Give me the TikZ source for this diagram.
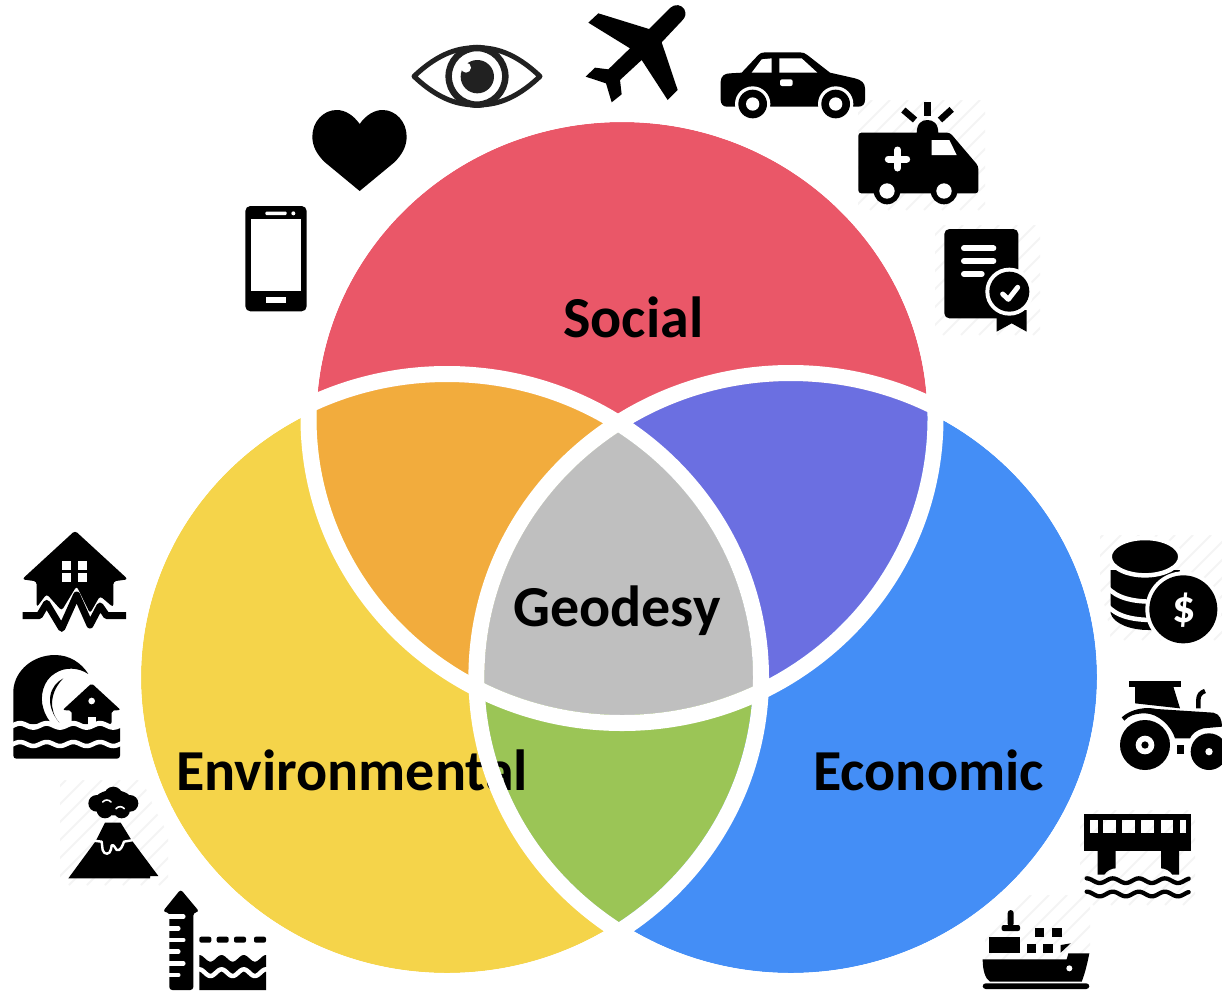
\documentclass[tikz,border=0pt]{standalone}
\usepackage{fontspec}
\setmainfont{Carlito}
\definecolor{cRed}{HTML}{EA5768}
\definecolor{cYel}{HTML}{F5D44A}
\definecolor{cBlu}{HTML}{448EF6}
\definecolor{cOra}{HTML}{F2AC3D}
\definecolor{cPur}{HTML}{6B6FE1}
\definecolor{cGre}{HTML}{9BC556}
\definecolor{cGra}{HTML}{BFBFBF}
\definecolor{cHat}{HTML}{F4F4F4}
\newcommand\ellT{(622,418.5) ellipse [x radius=305.5,y radius=296.5]}
\newcommand\ellL{(447,677.5) ellipse [x radius=306,y radius=295.5]}
\newcommand\ellR{(790.7,677) ellipse [x radius=306.3,y radius=296]}
\newcommand\hatchbox[4]{\begin{scope}\clip (#1,#2) rectangle (#3,#4);
 \foreach \k in {0,18,...,2300} \draw[cHat,line width=2pt] ({\k-#2},#2) -- ({\k-#4},#4);
 \end{scope}}
\tikzset{
 label/.style={font=\fontsize{58}{60}\selectfont\bfseries,text=black,anchor=base west,inner sep=0pt},
 ring/.style={draw=white,line width=16pt},
 gap/.style={white,line cap=round,line join=round},
 zoomed/.style={scale=0.33333}
}
\begin{document}
\begin{tikzpicture}[x=1pt,y=-1pt]
\useasboundingbox (0,0) rectangle (1222,991);
\fill[white] (0,0) rectangle (1222,991);
% faint watermark stripes
\hatchbox{60}{780}{168}{885}
\hatchbox{858}{100}{985}{210}
\hatchbox{935}{225}{1040}{335}
\hatchbox{1100}{535}{1222}{640}
\hatchbox{985}{895}{1090}{960}
\hatchbox{1080}{810}{1195}{905}
% venn
\fill[cRed] \ellT;
\fill[cYel] \ellL;
\fill[cBlu] \ellR;
\begin{scope}\clip \ellT; \fill[cOra] \ellL; \fill[cPur] \ellR; \end{scope}
\begin{scope}\clip \ellL; \fill[cGre] \ellR; \end{scope}
\begin{scope}\clip \ellT; \clip \ellL; \fill[cGra] \ellR; \end{scope}
\node[label] (social) at (563,337) {Social};
\node[label] (geodesy) at (513,626) {Geodesy};
\node[label] (env) at (176,790) {Environmental};
\node[label] (eco) at (813,790) {Economic};
\draw[ring] (622,418.5) ellipse [x radius=313.5,y radius=304.5];
\draw[ring] (447,677.5) ellipse [x radius=314,y radius=303.5];
\draw[ring] (790.7,677) ellipse [x radius=314.3,y radius=304];
% phone, heart, eye
\begin{scope}[shift={(230,0)},zoomed]
 \fill[rounded corners=5pt] (46,618) rectangle (230,934);
 \fill[white] (62,658) rectangle (214,874);
 \fill[white,rounded corners=1pt] (106,635) rectangle (170,645);
 \fill[white] (190,640) circle (6);
 \fill[white] (108,892) rectangle (168,910);
 \fill (389,372) .. controls (370,345) and (345,330) .. (320,330) .. controls (280,330) and (247,365) .. (247,410) .. controls (247,440) and (262,465) .. (285,487) -- (389,573) -- (493,487) .. controls (515,465) and (530,440) .. (530,410) .. controls (530,365) and (497,330) .. (458,330) .. controls (433,330) and (408,345) .. (389,372) -- cycle;
 \draw[color=black!87,line width=5pt,line join=round] (552,229) .. controls (630,155) and (690,143) .. (741,143) .. controls (792,143) and (852,155) .. (930,229) .. controls (852,303) and (792,315) .. (741,315) .. controls (690,315) and (630,303) .. (552,229) -- cycle;
 \draw[color=black!87,line width=6.5pt] (741,229) circle (85);
 \fill[color=black!87] (742,230) circle (50);
 \fill[white] (708,203) circle (15);
\end{scope}
% plane, car
\begin{scope}[shift={(570,0)},zoomed]
 \fill (237,87) -- (300,24) .. controls (315,10) and (335,14) .. (343,28) .. controls (350,42) and (345,52) .. (338,60) -- (275,127) -- (323,270) -- (293,300) -- (215,180) -- (150,240) -- (155,283) -- (125,307) -- (108,250) -- (47,230) -- (75,203) -- (115,208) -- (180,145) -- (55,68) -- (85,40) -- cycle;
 \fill (515,218) -- (565,165) .. controls (570,160) and (575,157) .. (585,157) -- (690,157) .. controls (700,157) and (705,160) .. (712,165) -- (780,218) -- (855,235) .. controls (875,240) and (885,250) .. (885,265) -- (885,300) .. controls (885,312) and (878,320) .. (865,320) -- (470,320) .. controls (460,320) and (452,312) .. (452,300) -- (452,245) .. controls (452,228) and (465,220) .. (480,220) -- cycle;
 \fill[white] (548,312) circle (53);
 \fill[white] (797,312) circle (53);
 \fill (548,312) circle (43);
 \fill (797,312) circle (43);
 \fill[white] (548,312) circle (20);
 \fill[white] (797,312) circle (20);
 \fill[white] (545,218) -- (575,178) -- (605,175) -- (605,218) -- cycle;
 \fill[white] (628,175) -- (695,175) -- (742,218) -- (628,218) -- cycle;
 \fill[white,rounded corners=2pt] (630,238) rectangle (668,258);
\end{scope}
% ambulance, certificate
\begin{scope}[shift={(850,90)},zoomed]
 \fill[rounded corners=3pt] (25,128) -- (300,128) -- (385,228) -- (385,310) -- (25,310) -- cycle;
 \fill (200,130) .. controls (200,100) and (215,90) .. (232,90) .. controls (250,90) and (265,100) .. (265,130) -- cycle;
 \fill (221,35) rectangle (244,78);
 \draw[line width=6.5pt] (160,60) -- (195,90);
 \draw[line width=6.5pt] (305,58) -- (270,90);
 \fill[white] (245,150) -- (298,150) -- (320,195) -- (245,195) -- cycle;
 \draw[gap,line width=7pt] (115,207) -- (170,207);
 \draw[gap,line width=7pt] (143,180) -- (143,234);
 \fill (111,303) circle (40);
 \fill (282,303) circle (40);
 \fill[white] (111,303) circle (23);
 \fill[white] (282,303) circle (23);
 \fill[rounded corners=5pt] (283,417) rectangle (505,685);
 \draw[gap,line width=6pt] (342,475) -- (430,475);
 \draw[gap,line width=6pt] (342,513) -- (430,513);
 \draw[gap,line width=6pt] (342,552) -- (395,552);
 \fill (440,660) -- (440,725) -- (485,700) -- (530,725) -- (530,660) -- cycle;
 \fill[white] (478,605) circle (72);
 \fill (478,605) circle (60);
 \draw[gap,line width=5pt] (458,612) -- (475,628) -- (503,592);
\end{scope}
% earthquake house, tsunami
\begin{scope}[shift={(0,520)},zoomed]
 \fill[rounded corners=3pt] (225,32) -- (384,178) -- (340,184) -- (340,262) -- (300,228) -- (270,280) -- (230,198) -- (185,272) -- (140,222) -- (110,262) -- (110,184) -- (66,178) -- cycle;
 \draw[line width=7pt,line join=round] (68,287) -- (118,287) -- (140,250) -- (185,325) -- (230,225) -- (270,315) -- (300,258) -- (320,287) -- (378,287);
 \fill[white] (185,122) rectangle (212,150);
 \fill[white] (235,122) rectangle (262,150);
 \fill[white] (185,160) rectangle (212,187);
 \fill[white] (235,160) rectangle (262,187);
 \fill (40,612) -- (40,510) .. controls (45,450) and (100,405) .. (165,405) .. controls (210,405) and (245,430) .. (265,462) .. controls (235,442) and (195,440) .. (165,460) .. controls (130,480) and (118,530) .. (130,565) .. controls (135,585) and (145,598) .. (155,612) -- cycle;
 \fill (190,475) .. controls (150,495) and (130,550) .. (178,608) .. controls (145,570) and (150,515) .. (190,475) -- cycle;
 \fill[rounded corners=2pt] (275,490) -- (362,570) -- (335,572) -- (335,612) -- (215,612) -- (215,572) -- (188,570) -- cycle;
 \fill[white] (275,543) circle (10);
 \fill[white] (265,590) rectangle (287,615);
 \fill[rounded corners=3pt] (40,615) rectangle (360,716);
 \draw[white,line width=5pt] plot[domain=30:370,samples=70] (\x,{616+6*sin(\x*4.5)});
 \draw[white,line width=4.5pt] plot[domain=30:370,samples=70] (\x,{672+6*sin(\x*4.5)});
\end{scope}
% volcano, sea level
\begin{scope}[shift={(50,770)},zoomed]
 \fill (140,100) circle (25) (190,78) circle (28) (240,100) circle (25) (165,120) circle (25) (215,120) circle (25) (190,98) ellipse [x radius=60,y radius=38];
 \draw[gap,line width=1.6pt] (158,96) .. controls (165,88) and (176,88) .. (183,96);
 \draw[gap,line width=1.6pt] (198,116) .. controls (205,108) and (216,108) .. (223,116);
 \fill (165,158) -- (212,158) -- (243,208) -- (325,318) -- (300,318) -- (300,325) -- (55,325) -- (138,212) -- cycle;
 \draw[gap,line width=2.4pt] (130,212) -- (155,215) -- (158,240) .. controls (162,255) and (180,255) .. (183,238) -- (185,226) .. controls (192,222) and (195,235) .. (200,240) .. controls (212,245) and (218,225) .. (222,215) -- (250,210);
 \fill[rounded corners=3pt] (392,358) -- (448,425) -- (430,428) -- (430,660) -- (358,660) -- (358,428) -- (338,425) -- cycle;
 \foreach \yy/\xx in {440/400,475/385,510/400,545/385,580/400,615/385}
  \draw[white,line width=4.5pt,line cap=round] (345,\yy) -- (\xx,\yy);
 \foreach \xx in {448,500,552,612}
  \fill[rounded corners=2pt] (\xx,500) rectangle ++(36,18);
 \fill (448,565) plot[domain=448:648,samples=40] (\x,{565+10*sin((\x-448)*5.4-90)}) -- (648,660) -- (448,660) -- cycle;
 \draw[white,line width=4.5pt] plot[domain=440:656,samples=50] (\x,{608+10*sin((\x-448)*5.4-90)});
\end{scope}
% coins, tractor
\begin{scope}[shift={(1090,530)},zoomed]
 \fill (62,120) -- (62,250) .. controls (70,280) and (120,300) .. (175,300) -- (200,300) -- (270,120) -- cycle;
 \draw[white,line width=4.5pt] (50,170) .. controls (80,205) and (130,215) .. (190,215);
 \draw[white,line width=4.5pt] (50,225) .. controls (80,260) and (130,270) .. (190,270);
 \fill[draw=white,line width=4.5pt] (165,80) ellipse [x radius=106,y radius=56];
 \fill[white] (280,238) circle (114);
 \fill (280,238) circle (102);
 \node[font=\fontsize{46}{46}\selectfont\bfseries,text=white,inner sep=0pt] (dollar) at (282,240) {\$};
 \fill (117,453) rectangle (272,470);
 \fill (135,470) -- (135,520) -- (270,535) -- (250,470) -- cycle;
 \draw[line width=4.5pt] (325,535) -- (325,510) .. controls (325,495) and (333,487) .. (345,483);
 \fill (95,562) .. controls (125,535) and (170,530) .. (200,537) -- (370,548) .. controls (390,552) and (396,570) .. (396,590) -- (340,595) .. controls (320,600) and (305,612) .. (300,625) -- (255,625) .. controls (245,590) and (205,550) .. (165,550) .. controls (135,550) and (115,558) .. (103,572) -- cycle;
 \fill (165,645) circle (75);
 \fill[white] (165,645) circle (28);
 \fill (165,645) circle (11);
 \fill[white] (357,665) circle (62);
 \fill (357,665) circle (55);
 \fill[white] (357,665) circle (11);
 \fill (260,645) rectangle (282,672);
\end{scope}
% bridge, ship
\begin{scope}[shift={(970,800)},zoomed]
 \fill (342,43) rectangle (663,60);
 \fill (342,98) rectangle (663,152);
 \foreach \xx/\ww in {342/18,383/16,438/19,495/19,553/19,610/19,647/16}
  \fill (\xx,60) rectangle ++(\ww,38);
 \fill (383,152) -- (437,152) -- (437,205) .. controls (425,205) and (410,212) .. (403,224) -- (383,224) -- cycle;
 \fill (573,152) -- (627,152) -- (627,224) -- (607,224) .. controls (600,212) and (585,205) .. (573,205) -- cycle;
 \draw[line width=4.3pt,line cap=round] plot[domain=350:656,samples=60] (\x,{242+7*sin((\x-350)*4.6-90)});
 \draw[line width=4.3pt,line cap=round] plot[domain=350:656,samples=60] (\x,{282+7*sin((\x-350)*4.6-90)});
 \fill (38,478) -- (290,478) -- (295,460) -- (358,460) .. controls (352,490) and (345,520) .. (335,545) -- (60,545) .. controls (45,535) and (38,510) .. (38,478) -- cycle;
 \fill[white] (298,505) circle (9);
 \fill[rounded corners=3pt] (38,550) rectangle (358,567);
 \fill[rounded corners=3pt] (113,330) rectangle (131,380);
 \fill[rounded corners=2pt] (95,375) rectangle (150,393);
 \fill (58,410) rectangle (150,458);
 \fill (195,385) rectangle (222,410);
 \fill (245,385) rectangle (275,410);
 \fill (170,432) rectangle (197,458);
 \fill (220,432) rectangle (250,458);
 \fill (272,435) -- (302,430) -- (272,458) -- cycle;
\end{scope}
\end{tikzpicture}
\end{document}
